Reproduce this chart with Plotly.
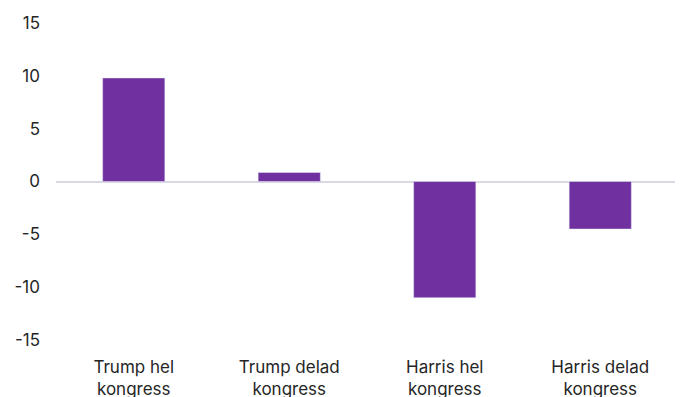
import plotly.graph_objects as go

categories = ["Trump hel<br>kongress", "Trump delad<br>kongress", "Harris hel<br>kongress", "Harris delad<br>kongress"]
values = [9.8, 0.85, -11.0, -4.5]
tick_vals = [-15, -10, -5, 0, 5, 10, 15]
tick_text = ["-15", "-10", "-5", "0", "5", "10", "15"]

fig = go.Figure(go.Bar(x=categories, y=values, marker_color="#7030A0", width=0.4))
fig.update_layout(
    width=683, height=397,
    margin=dict(l=48, r=13, t=15, b=65, autoexpand=False),
    paper_bgcolor="white", plot_bgcolor="white",
    font=dict(family="Inter, Open Sans, sans-serif", size=17, color="#262626"),
    showlegend=False,
    bargap=0.6,
)
fig.update_yaxes(range=[-15, 15], tickvals=tick_vals, ticktext=tick_text, showgrid=False, zeroline=True,
                 zerolinecolor="#d9d9e6", zerolinewidth=2, ticklabelstandoff=15, showline=False,
                 automargin=False)
fig.update_xaxes(showgrid=False, showline=False, ticks="", ticklabelstandoff=15, automargin=False)
fig.write_html("out.html")
